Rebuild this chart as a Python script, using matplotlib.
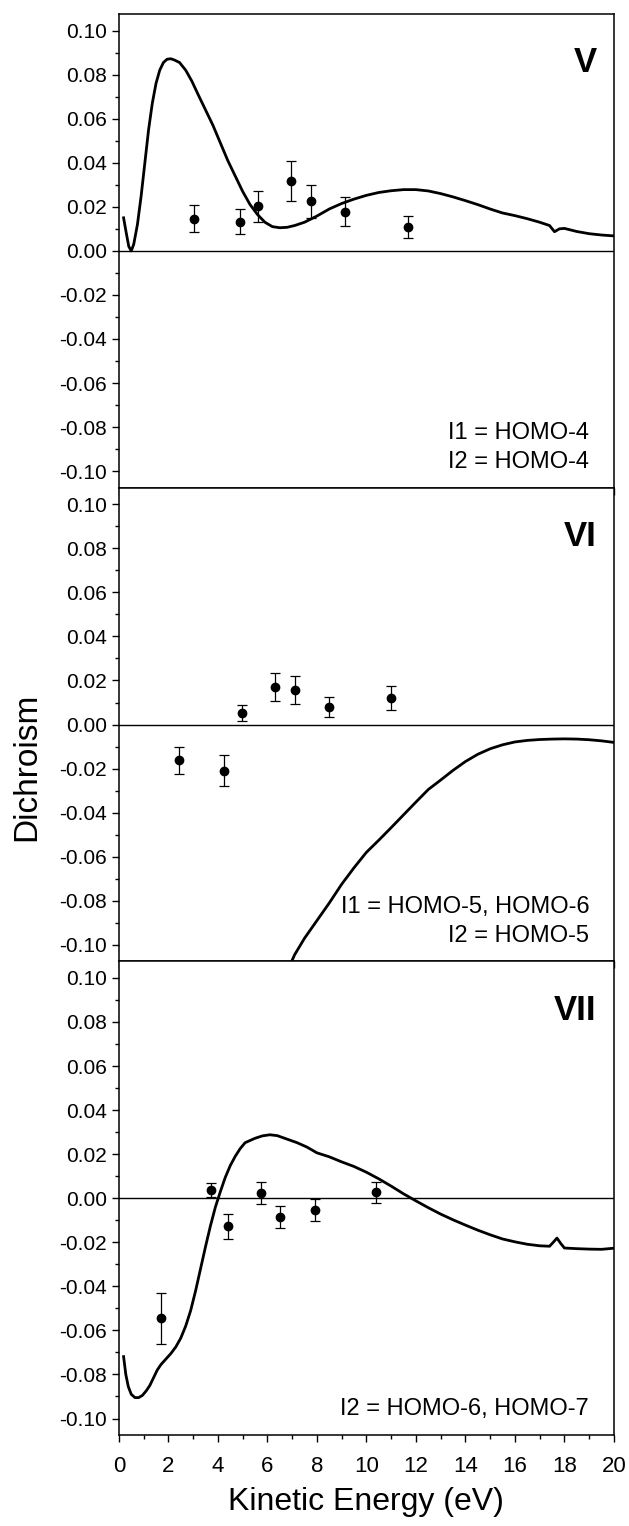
import matplotlib.pyplot as plt
import numpy as np
from matplotlib.ticker import MultipleLocator, FuncFormatter

plt.rcParams['font.family'] = ['Liberation Sans', 'DejaVu Sans']

# Panel V: theory curve and measured points
v_curve_x = [0.19, 0.3, 0.4, 0.5, 0.6, 0.75, 0.9, 1.05, 1.2, 1.35, 1.5, 1.65, 1.8, 1.95, 2.1, 2.25,
             2.45, 2.7, 2.95, 3.2, 3.5, 3.8, 4.1, 4.4, 4.7, 5.0, 5.3, 5.6, 5.9, 6.2, 6.5, 6.8, 7.1,
             7.5, 8.0, 8.5, 9.0, 9.5, 10.0, 10.5, 11.0, 11.5, 12.0, 12.5, 13.0, 13.5, 14.0, 14.5,
             15.0, 15.5, 16.0, 16.5, 17.0, 17.4, 17.6, 17.8, 18.0, 18.5, 19.0, 19.5, 20.0]
v_curve_y = [0.015, 0.008, 0.002, 0.0, 0.003, 0.012, 0.025, 0.040, 0.055, 0.067, 0.076, 0.082, 0.0855,
             0.087, 0.0872, 0.0866, 0.0855, 0.082, 0.077, 0.071, 0.064, 0.057, 0.049, 0.041, 0.034,
             0.027, 0.021, 0.0165, 0.013, 0.011, 0.0105, 0.0107, 0.0115, 0.013, 0.0158, 0.019,
             0.0215, 0.0235, 0.0252, 0.0265, 0.0273, 0.0278, 0.0278, 0.0272, 0.026, 0.0245, 0.0228,
             0.021, 0.019, 0.0172, 0.016, 0.0146, 0.013, 0.0115, 0.0087, 0.01, 0.0102, 0.0088,
             0.0078, 0.0072, 0.0068]
v_pts_x = [3.04, 4.88, 5.63, 6.95, 7.76, 9.15, 11.67]
v_pts_y = [0.0146, 0.0133, 0.0202, 0.0318, 0.0226, 0.0178, 0.0107]
v_pts_err = [0.006, 0.0058, 0.007, 0.009, 0.0075, 0.0067, 0.005]

# Panel VI
vi_curve_x = [6.8, 7.1, 7.5, 8.0, 8.5, 9.0, 9.5, 10.0, 10.5, 11.0, 11.5, 12.0, 12.5, 13.0, 13.5,
              14.0, 14.5, 15.0, 15.5, 16.0, 16.5, 17.0, 17.5, 18.0, 18.5, 19.0, 19.5, 20.0]
vi_curve_y = [-0.112, -0.1045, -0.097, -0.089, -0.081, -0.0725, -0.065, -0.058, -0.0525, -0.0468,
              -0.041, -0.0352, -0.0295, -0.0252, -0.0208, -0.0168, -0.0135, -0.011, -0.0092,
              -0.0079, -0.0072, -0.0068, -0.0066, -0.0065, -0.0066, -0.0069, -0.0074, -0.0081]
vi_pts_x = [2.41, 4.25, 4.98, 6.31, 7.11, 8.5, 10.99]
vi_pts_y = [-0.0163, -0.0209, 0.0053, 0.0169, 0.0158, 0.0079, 0.0119]
vi_pts_err = [0.0063, 0.007, 0.0036, 0.0064, 0.0064, 0.0045, 0.0055]

# Panel VII
vii_curve_x = [0.19, 0.28, 0.38, 0.5, 0.65, 0.8, 0.95, 1.1, 1.25, 1.4, 1.55, 1.7, 1.9, 2.1, 2.3,
               2.5, 2.7, 2.9, 3.1, 3.3, 3.5, 3.7, 3.9, 4.1, 4.3, 4.5, 4.7, 4.9, 5.1, 5.3, 5.5, 5.8,
               6.1, 6.4, 6.8, 7.2, 7.6, 8.0, 8.5, 9.0, 9.5, 10.0, 10.5, 11.0, 11.5, 12.0, 12.5,
               13.0, 13.5, 14.0, 14.5, 15.0, 15.5, 16.0, 16.5, 17.0, 17.4, 17.55, 17.7, 17.85,
               18.0, 18.5, 19.0, 19.5, 20.0]
vii_curve_y = [-0.0719, -0.080, -0.0855, -0.089, -0.0905, -0.0905, -0.0895, -0.0875, -0.085, -0.0815,
               -0.078, -0.0755, -0.073, -0.0705, -0.0675, -0.0635, -0.058, -0.051, -0.042, -0.032,
               -0.022, -0.0125, -0.004, 0.003, 0.0095, 0.0148, 0.019, 0.0225, 0.0252, 0.0262,
               0.0272, 0.0283, 0.0288, 0.0284, 0.0268, 0.0252, 0.0232, 0.0206, 0.0188, 0.0165,
               0.0144, 0.0118, 0.0088, 0.0055, 0.002, -0.0012, -0.0043, -0.0072, -0.0098, -0.0122,
               -0.0145, -0.0166, -0.0185, -0.0198, -0.0209, -0.0216, -0.0218, -0.02, -0.0181,
               -0.0205, -0.0226, -0.0229, -0.0231, -0.0232, -0.0227]
vii_pts_x = [1.7, 3.72, 4.4, 5.74, 6.52, 7.91, 10.38]
vii_pts_y = [-0.0545, 0.0036, -0.0128, 0.0024, -0.0085, -0.0052, 0.0026]
vii_pts_err = [0.0117, 0.0032, 0.0055, 0.0049, 0.005, 0.005, 0.0048]

panel_names = ['V', 'VI', 'VII']
panel_notes = [['I1 = HOMO-4', 'I2 = HOMO-4'],
               ['I1 = HOMO-5, HOMO-6', 'I2 = HOMO-5'],
               ['I2 = HOMO-6, HOMO-7']]

curves = [(v_curve_x, v_curve_y), (vi_curve_x, vi_curve_y), (vii_curve_x, vii_curve_y)]
points = [(v_pts_x, v_pts_y, v_pts_err), (vi_pts_x, vi_pts_y, vi_pts_err), (vii_pts_x, vii_pts_y, vii_pts_err)]


def fmt_y(v, pos):
    if abs(v) < 1e-9:
        v = 0.0
    return f'{v:.2f}'


fig, axes = plt.subplots(3, 1, figsize=(6.29, 15.26), dpi=100, sharex=True)
fig.subplots_adjust(left=0.189, right=0.976, top=0.9908, bottom=0.0596, hspace=0)

for i, ax in enumerate(axes):
    cx, cy = curves[i]
    px, py, pe = points[i]
    ax.axhline(0, color='black', lw=1.0, zorder=1)
    ax.plot(cx, cy, color='black', lw=2.0, zorder=3, solid_joinstyle='round')
    ax.errorbar(px, py, yerr=pe, fmt='o', color='black', ms=6, capsize=3.5,
                elinewidth=0.9, capthick=0.9, zorder=4)
    ax.set_xlim(0, 20)
    ax.set_ylim(-0.1075, 0.1075)
    ax.yaxis.set_major_locator(MultipleLocator(0.02))
    ax.yaxis.set_minor_locator(MultipleLocator(0.01))
    ax.yaxis.set_major_formatter(FuncFormatter(fmt_y))
    ax.xaxis.set_major_locator(MultipleLocator(2))
    ax.xaxis.set_minor_locator(MultipleLocator(1))
    ax.tick_params(which='both', direction='out', top=False, right=False, width=1.0)
    ax.tick_params(which='major', length=5)
    ax.tick_params(which='minor', length=3)
    ax.tick_params(axis='y', labelsize=15)
    ax.tick_params(axis='x', labelsize=16, pad=10)
    for sp in ax.spines.values():
        sp.set_linewidth(1.1)
    ax.text(19.3, 0.081, panel_names[i], ha='right', va='baseline',
            fontsize=25, fontweight='bold')
    for j, note in enumerate(panel_notes[i]):
        ax.text(19.0, -0.0985 + 0.0131 * (len(panel_notes[i]) - 1 - j), note,
                ha='right', va='baseline', fontsize=17)

axes[-1].set_xlabel('Kinetic Energy (eV)', fontsize=23, labelpad=7)
fig.text(0.042, 1 - 767 / 1526, 'Dichroism', rotation=90, ha='center', va='center', fontsize=24)

plt.savefig('out.png', dpi=100)
